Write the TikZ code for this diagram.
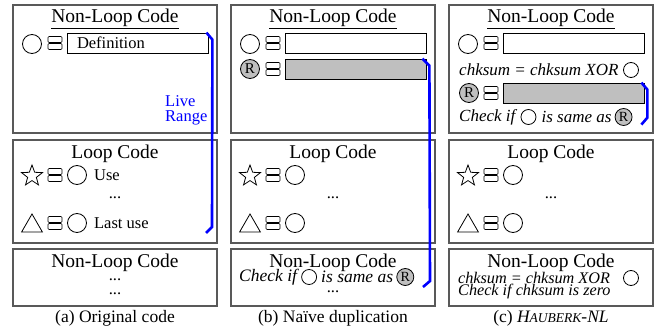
\documentclass[tikz,border=0pt]{standalone}
\usepackage{fontspec}
\setmainfont{Liberation Serif}
\usetikzlibrary{positioning,calc,shapes.geometric}

\newcommand{\hdsize}{\fontsize{19.5}{21}\selectfont}
\newcommand{\rwsize}{\fontsize{16.5}{15}\selectfont}
\newcommand{\itsize}{\fontsize{17.5}{18}\selectfont\itshape}

\begin{document}
\begin{tikzpicture}[
  x=1pt, y=-1pt, node distance=4pt,
  panel/.style={draw=black!65, line width=1.2pt, minimum width=204pt, inner sep=0pt},
  hd/.style   ={font=\hdsize, inner sep=0pt},
  rw/.style   ={font=\rwsize, inner sep=0pt},
  itx/.style  ={font=\itsize, inner sep=0pt},
  itc/.style  ={font=\fontsize{17}{18}\selectfont\itshape, inner sep=0pt},
  itb/.style  ={font=\fontsize{16.2}{17}\selectfont\itshape, inner sep=0pt},
  slot/.style ={draw, line width=0.8pt, minimum height=20pt, text width=121pt,
                inner xsep=10pt, inner ysep=0pt, align=left, font=\rwsize},
  used/.style ={slot, fill=black!25},
  val/.style  ={circle, draw, line width=0.8pt, minimum size=19pt, inner sep=0pt},
  sml/.style  ={val, minimum size=15pt},
  rdup/.style ={val, fill=black!25, font=\fontsize{15}{15}\selectfont},
  rsml/.style ={rdup, minimum size=17pt, font=\fontsize{14}{14}\selectfont},
  reg/.style  ={minimum width=15pt, minimum height=14pt, inner sep=0pt,
    path picture={
      \draw[line width=0.7pt, rounded corners=1pt]
        ([shift={(0.5pt,-0.5pt)}]path picture bounding box.north west) rectangle
        ([shift={(-0.5pt,0.5pt)}]path picture bounding box.east);
      \draw[line width=0.7pt, rounded corners=1pt]
        ([shift={(0.5pt,-0.5pt)}]path picture bounding box.west) rectangle
        ([shift={(-0.5pt,0.5pt)}]path picture bounding box.south east);}},
  starsym/.style={star, star points=5, star point ratio=2.4, draw, line width=0.8pt,
                  minimum size=22pt, inner sep=0pt},
  trisym/.style ={regular polygon, regular polygon sides=3, draw, line width=0.8pt,
                  minimum size=24pt, inner sep=0pt},
  live/.style ={draw=blue, line width=2.6pt},
  captxt/.style={font=\fontsize{17.5}{18}\selectfont, inner sep=0pt}]

\useasboundingbox (0,0) rectangle (657,329);

% three columns share the same frame
\foreach \p/\dx/\txt in {a/0/Definition,b/218/{},c/436/{}}{
  \begin{scope}[xshift=\dx pt]
    \node[panel, minimum height=128pt] (top\p) at (115,69) {};
    \node[panel, minimum height=103pt] (loop\p) at (115,191.5) {};
    \node[panel, minimum height=57pt]  (bot\p) at (115,277.5) {};
    \node[hd, anchor=base] (h1\p) at (115,23) {\underline{Non-Loop Code}};
    \node[hd, anchor=base] (h2\p) at (115,158) {Loop Code};
    \node[hd, anchor=base] (h3\p) at (115,267) {Non-Loop Code};
    % definition row
    \node[val]  (def\p) at (32,44) {};
    \node[reg]  (rd\p)  at (55,43) {};
    \node[slot] (sd\p)  at (137.5,43) {\txt};
    % loop rows
    \node[starsym] (st\p) at (32,176) {};
    \node[reg]     (rs\p) at (55,175) {};
    \node[val]     (u1\p) at (77,175) {};
    \node[rw, anchor=base] (dl\p) at (115,198.5) {...};
    \node[trisym]  (tr\p) at (32,226) {};
    \node[reg]     (rt\p) at (55,223) {};
    \node[val]     (u2\p) at (77,223) {};
  \end{scope}
}

% (a) original code
\node[rw, right=7pt of u1a] (use) {Use};
\node[rw, right=7pt of u2a] (last) {Last use};
\node[rw, anchor=west, align=left, text=blue] (lr) at (165,110) {Live\\Range};
\node[rw, anchor=base] (da1) at (115,280.5) {...};
\node[rw, anchor=base] (da2) at (115,294.5) {...};
\coordinate (endA) at (206,233);
\draw[live] ([xshift=-2pt]sda.north east) -- ++(6,7) -- ($(endA)+(6,-6)$) -- (endA);

% (b) naive duplication
\node[rdup] (dupb) at (250,69) {R};
\node[reg]  (rrb)  at (273,69) {};
\node[used] (sub)  at (355.5,69) {};
\node[itx, anchor=west] (ckb) at (239,277) {Check if};
\node[sml, right=4pt of ckb] (cvb) {};
\node[itx, right=4pt of cvb] (smb) {is same as};
\node[rsml, right=3pt of smb] (crb) {R};
\node[rw, anchor=base] (db) at (333,292) {...};
\coordinate (endB) at (423,287);
\draw[live] ([xshift=-4pt]sub.north east) -- ++(7,7) -- ($(endB)+(7,-6)$) -- (endB);

% (c) hauberk-nl
\node[itc, anchor=west] (xr1) at (459,70) {chksum = chksum XOR};
\node[sml] (xv1) at (631,70) {};
\node[rdup] (dupc) at (469,93) {R};
\node[reg]  (rrc)  at (491,93) {};
\node[used] (suc)  at (573.5,93) {};
\node[itc, anchor=west] (ckc) at (459,117) {Check if};
\node[sml, right=5pt of ckc] (cvc) {};
\node[itc, right=5pt of cvc] (smc) {is same as};
\node[rsml, right=3pt of smc] (crc) {R};
\draw[live] ([xshift=-3pt]suc.north east) -- ++(6,7) -- ++(0,28) -- ++(-6,7);
\node[itb, anchor=west] (xr2) at (458,278) {chksum = chksum XOR};
\node[sml] (xv2) at (631,278) {};
\node[itb, anchor=west] (cz) at (458,292) {Check if chksum is zero};

% captions
\node[captxt] (capa) at (115,318) {(a) Original code};
\node[captxt] (capb) at (333,318) {(b) Naïve duplication};
\node[captxt] (capc) at (551,318) {(c) \textit{H{\fontsize{13.5}{14}\selectfont AUBERK}-NL}};
\end{tikzpicture}
\end{document}
